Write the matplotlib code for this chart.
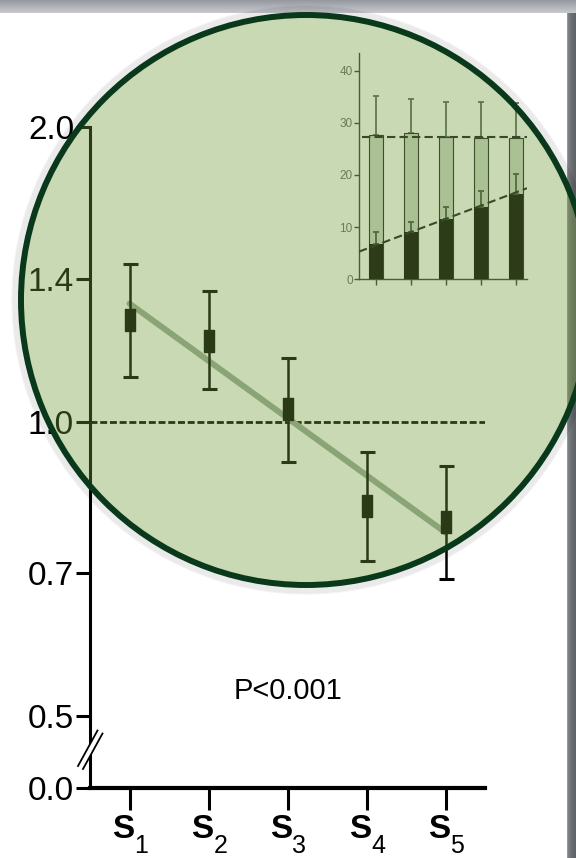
import numpy as np
import matplotlib.pyplot as plt
from matplotlib.patches import Circle
from matplotlib.ticker import NullLocator

plt.rcParams['font.family'] = ['Liberation Sans', 'DejaVu Sans']
plt.rcParams['font.stretch'] = 'condensed'

# hazard ratios per quintile (log scale)
quintiles = ['1', '2', '3', '4', '5']
hr = [1.27, 1.21, 1.03, 0.82, 0.79]
hr_lo = [1.11, 1.08, 0.91, 0.72, 0.69]
hr_hi = [1.45, 1.36, 1.16, 0.93, 0.90]
hr_trend = [1.32, 0.77]
y_ticks = [0.5, 0.7, 1.0, 1.4, 2.0]
y_labels = ['0.5', '0.7', '1.0', '1.4', '2.0']

# inset: total height and dark share of each bar
total = [27.7, 28.0, 27.2, 27.0, 27.0]
total_err = [7.5, 6.6, 6.7, 6.9, 6.8]
part = [6.8, 9.1, 11.5, 13.8, 16.3]
part_err = [2.2, 1.9, 2.3, 3.2, 3.8]
total_mean = 27.2
part_trend = [5.3, 17.45]
inset_ticks = [0, 10, 20, 30, 40]

W, H = 576, 858
fig = plt.figure(figsize=(W / 100, H / 100), dpi=100)


def box(x0, y0, x1, y1):
    # pixel box measured from the top-left corner
    return [x0 / W, 1 - y1 / H, (x1 - x0) / W, (y1 - y0) / H]


def pix_axes(z):
    a = fig.add_axes([0, 0, 1, 1], zorder=z)
    a.set_xlim(0, W)
    a.set_ylim(H, 0)
    a.axis('off')
    a.patch.set_alpha(0)
    return a


# page frame
bg = pix_axes(-5)
top = np.array([150, 153, 160])
bot = np.array([200, 202, 207])
t = np.linspace(0, 1, 20)[:, None, None]
bg.imshow((top + (bot - top) * t).astype(np.uint8), extent=[0, W, 13, 0], aspect='auto')
left = np.array([150, 153, 158])
right = np.array([95, 98, 103])
t = np.linspace(0, 1, 10)[None, :, None] ** 0.4
bg.imshow((left + (right - left) * t).astype(np.uint8), extent=[567, W, H, 13], aspect='auto')

x = np.arange(1, 6)

# main panel
ax = fig.add_axes(box(90, 127, 485, 716))
ax.patch.set_alpha(0)
ax.set_yscale('log')
ax.set_ylim(0.5, 2.0)
ax.set_xlim(0.5, 5.5)
ax.plot([1, 5], hr_trend, color='#9aab98', lw=4.3, solid_capstyle='round', zorder=2)
ax.axhline(1.0, color='black', lw=2.0, ls=(0, (2.5, 1.0)), zorder=1)
err = [np.array(hr) - np.array(hr_lo), np.array(hr_hi) - np.array(hr)]
ax.errorbar(x, hr, yerr=err, fmt='none', ecolor='black', elinewidth=1.8,
            capsize=5.4, capthick=2.2, zorder=3)
rect = [(-0.25, -0.5), (0.25, -0.5), (0.25, 0.5), (-0.25, 0.5), (-0.25, -0.5)]
ax.plot(x, hr, ls='none', marker=rect, ms=15.8, color='black', zorder=4)
for s in ['top', 'right', 'bottom']:
    ax.spines[s].set_visible(False)
ax.spines['left'].set_linewidth(2.2)
ax.set_yticks(y_ticks)
ax.set_yticklabels(y_labels)
ax.yaxis.set_minor_locator(NullLocator())
ax.set_xticks([])
ax.tick_params(axis='y', length=10, width=2.2, pad=1.5, labelsize=24)
ax.text(0.5, 0.043, 'P<0.001', transform=ax.transAxes, ha='center', va='center', fontsize=21)

# broken lower part of the axis
axb = fig.add_axes(box(90, 716, 485, 788))
axb.patch.set_alpha(0)
axb.set_xlim(0.5, 5.5)
axb.set_ylim(0, 1)
axb.set_yticks([0])
axb.set_yticklabels(['0.0'])
axb.set_xticks(x)
axb.set_xticklabels([])
for s in ['top', 'right']:
    axb.spines[s].set_visible(False)
axb.spines['left'].set_linewidth(2.2)
axb.spines['bottom'].set_linewidth(3.0)
axb.tick_params(axis='y', length=10, width=2.2, pad=1.5, labelsize=24)
axb.tick_params(axis='x', length=16, width=2.2)
for xi, q in zip(x, quintiles):
    axb.annotate('S', (xi, 0), xytext=(-4.5, -30), textcoords='offset points',
                 ha='center', va='center', fontsize=24, fontweight='bold')
    axb.annotate(q, (xi, 0), xytext=(8.5, -42), textcoords='offset points',
                 ha='center', va='center', fontsize=18)

# green lens over the panel
cx, cy, r = 306, 300, 285
lens = pix_axes(5)
for i in range(7):
    lens.add_patch(Circle((cx, cy), r + 2 + i * 1.1, fill=False, ec='black', lw=1.5, alpha=0.045))
lens.add_patch(Circle((cx, cy), r, fc=(112 / 255, 155 / 255, 60 / 255), alpha=0.38, ec='none'))

# inset bar chart
ins = fig.add_axes(box(359, 53.3, 527, 279.3), zorder=10)
ins.patch.set_alpha(0)
ins.set_xlim(0.514, 5.314)
ins.set_ylim(0, 43.3)
zeros = np.zeros(5)
ins.bar(x, total, width=0.38, color='#aac194', edgecolor='#3e4e2a', lw=0.8, zorder=2)
ins.errorbar(x, total, yerr=[zeros, total_err], fmt='none', ecolor='#617650',
             elinewidth=1.3, capsize=2.5, capthick=1.3, zorder=1.5)
ins.bar(x, part, width=0.38, color='#2d3b18', zorder=3)
ins.errorbar(x, part, yerr=[zeros, part_err], fmt='none', ecolor='#56683f',
             elinewidth=1.3, capsize=2.5, capthick=1.3, zorder=3.5)
ins.plot([0.6, 5.314], [total_mean, total_mean], color='#3a4a28', lw=1.5,
         ls=(0, (4, 2)), zorder=4)
ins.plot([0.514, 5.314], part_trend, color='#3a4a28', lw=1.5, ls=(0, (4, 2)), zorder=4)
for s in ['top', 'right']:
    ins.spines[s].set_visible(False)
for s in ['left', 'bottom']:
    ins.spines[s].set_color('#4c5c38')
    ins.spines[s].set_linewidth(1.0)
ins.set_yticks(inset_ticks)
ins.set_xticks(x)
ins.set_xticklabels([])
ins.tick_params(axis='y', length=3.5, width=1, color='#4c5c38', labelsize=8.5,
                labelcolor='#6b7b55', pad=1)
ins.tick_params(axis='x', length=4, width=1, color='#4c5c38')

# lens rim and axis break marks
rim = pix_axes(20)
rim.add_patch(Circle((cx, cy), r, fill=False, ec='#0a381a', lw=4.3))
rim.plot([80.5, 100], [767.5, 732], color='white', lw=4.5, solid_capstyle='butt')
rim.plot([78, 97.5], [766, 730.5], color='black', lw=1.3)
rim.plot([83, 102.5], [769, 733.5], color='black', lw=1.3)

fig.savefig('out.png', dpi=100)
